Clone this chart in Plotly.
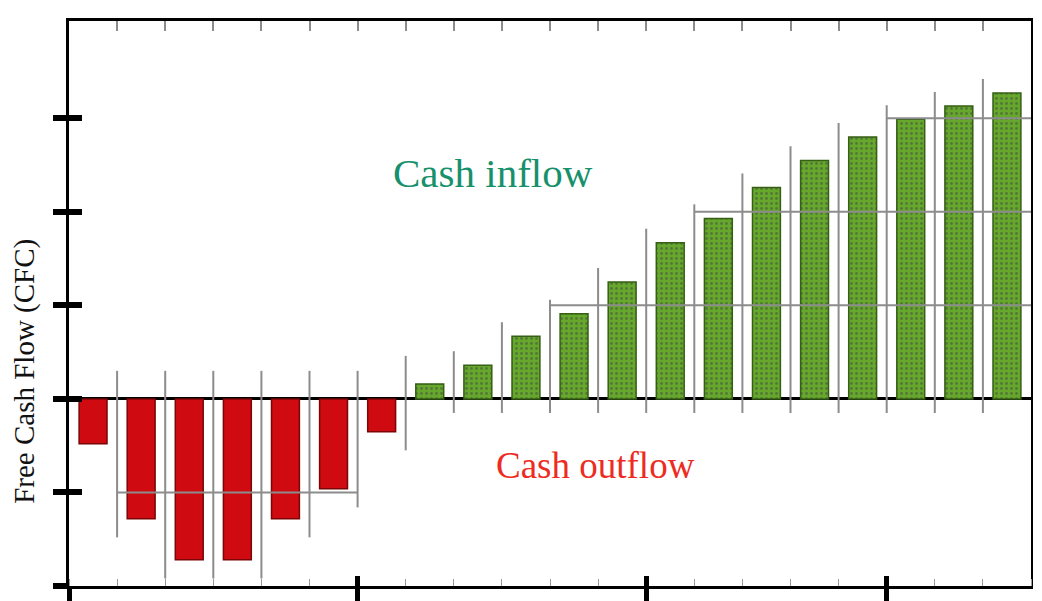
import plotly.graph_objects as go

# free cash flow per period (1 unit = one y tick)
periods = list(range(1, 21))
cash_flow = [-0.48, -1.28, -1.72, -1.72, -1.28, -0.96, -0.35,
             0.16, 0.36, 0.67, 0.91, 1.25, 1.67, 1.93, 2.26, 2.55,
             2.80, 2.99, 3.13, 3.27]
y_ticks = [-2, -1, 0, 1, 2, 3]
x_major_ticks = [0.5, 6.5, 12.5, 17.5]
grid_levels = [-1, 1, 2, 3]

SERIF = "Liberation Serif, Times New Roman, serif"
boundaries = [p + 0.5 for p in [0] + periods]

#### staircase guide lines behind the bars
gx, gy = [], []
for i in range(len(periods) - 1):
    a, b = cash_flow[i], cash_flow[i + 1]
    pos = periods[i] + 0.5
    if min(a, b) < 0:
        lo = max(min(a, b) - 0.2, -2)
        hi = max(a, b, 0) + 0.3
    else:
        lo = -0.15
        hi = max(a, b) + 0.15
    gx += [pos, pos, None]
    gy += [lo, hi, None]

for lev in grid_levels:
    if lev > 0:
        idx = [i for i, v in enumerate(cash_flow) if v > lev - 0.1]
    else:
        idx = [i for i, v in enumerate(cash_flow) if v < lev + 0.1]
    if idx:
        gx += [periods[idx[0]] - 0.5, periods[idx[-1]] + 0.5, None]
        gy += [lev, lev, None]

fill = ['#cf0a10' if v < 0 else '#66a82c' for v in cash_flow]
edge = ['#7a0606' if v < 0 else '#355f15' for v in cash_flow]
shapes = ['' if v < 0 else '.' for v in cash_flow]

fig = go.Figure()
fig.add_trace(go.Scatter(x=gx, y=gy, mode='lines',
                         line=dict(color='#8c8c8c', width=2),
                         hoverinfo='skip', showlegend=False))
fig.add_trace(go.Bar(x=periods, y=cash_flow, width=0.58,
                     marker=dict(color=fill,
                                 line=dict(color=edge, width=1.5),
                                 pattern=dict(shape=shapes, fgcolor='#9ccc5a',
                                              size=5, solidity=0.25)),
                     showlegend=False))

# empty traces so the overlay axes (frame and extra ticks) get drawn
for xa, ya in [('x2', 'y'), ('x3', 'y'), ('x', 'y2'), ('x', 'y3')]:
    fig.add_trace(go.Scatter(x=[None], y=[None], xaxis=xa, yaxis=ya,
                             mode='markers', showlegend=False,
                             hoverinfo='skip'))

fig.add_annotation(x=9.31, y=2.41, text='Cash inflow', showarrow=False,
                   font=dict(family=SERIF, size=41, color='#17906c'))
fig.add_annotation(x=11.44, y=-0.71, text='Cash outflow', showarrow=False,
                   font=dict(family=SERIF, size=37, color='#ee2b22'))
fig.add_annotation(xref='paper', x=-0.0457, y=0.29, yref='y',
                   xanchor='center', yanchor='middle',
                   text='Free Cash Flow (CFC)', textangle=-90, showarrow=False,
                   font=dict(family=SERIF, size=29, color='#111111'))

xr = [0.5, 20.5]
yr = [-2.0, 4.04]
# page body adds a few px of offset, so margins are trimmed to land the frame
fig.update_layout(
    width=1042, height=601,
    margin=dict(l=61, r=19, t=13, b=23, autoexpand=False),
    paper_bgcolor='white', plot_bgcolor='white',
    bargap=0.4,
    xaxis=dict(range=xr, tickmode='array', tickvals=x_major_ticks,
               ticks='outside', ticklen=14, tickwidth=5, tickcolor='black',
               showticklabels=False, showgrid=False, zeroline=False,
               showline=True, linecolor='black', linewidth=3,
               automargin=False,
               minor=dict(tickmode='array', tickvals=boundaries,
                          ticks='inside', ticklen=7, tickwidth=1,
                          tickcolor='#9a9a9a')),
    xaxis2=dict(range=xr, overlaying='x', anchor='y', side='bottom',
                tickmode='array', tickvals=x_major_ticks,
                ticks='inside', ticklen=10, tickwidth=5, tickcolor='black',
                showticklabels=False, showgrid=False, zeroline=False,
                showline=False, automargin=False),
    xaxis3=dict(range=xr, overlaying='x', anchor='y', side='top',
                tickmode='array', tickvals=boundaries,
                ticks='inside', ticklen=10, tickwidth=2, tickcolor='#8c8c8c',
                showticklabels=False, showgrid=False, zeroline=False,
                showline=True, linecolor='black', linewidth=3,
                automargin=False),
    yaxis=dict(range=yr, tickmode='array', tickvals=y_ticks,
               ticks='outside', ticklen=13, tickwidth=6, tickcolor='black',
               showticklabels=False, showgrid=False,
               zeroline=True, zerolinecolor='black', zerolinewidth=3,
               showline=True, linecolor='black', linewidth=3,
               automargin=False),
    yaxis2=dict(range=yr, overlaying='y', anchor='x', side='right',
                showticklabels=False, ticks='', showgrid=False,
                zeroline=False, showline=True, linecolor='black',
                linewidth=2, automargin=False),
    yaxis3=dict(range=yr, overlaying='y', anchor='x', side='left',
                tickmode='array', tickvals=y_ticks,
                ticks='inside', ticklen=13, tickwidth=6, tickcolor='black',
                showticklabels=False, showgrid=False, zeroline=False,
                showline=False, automargin=False),
)

fig.write_html("out.html")
